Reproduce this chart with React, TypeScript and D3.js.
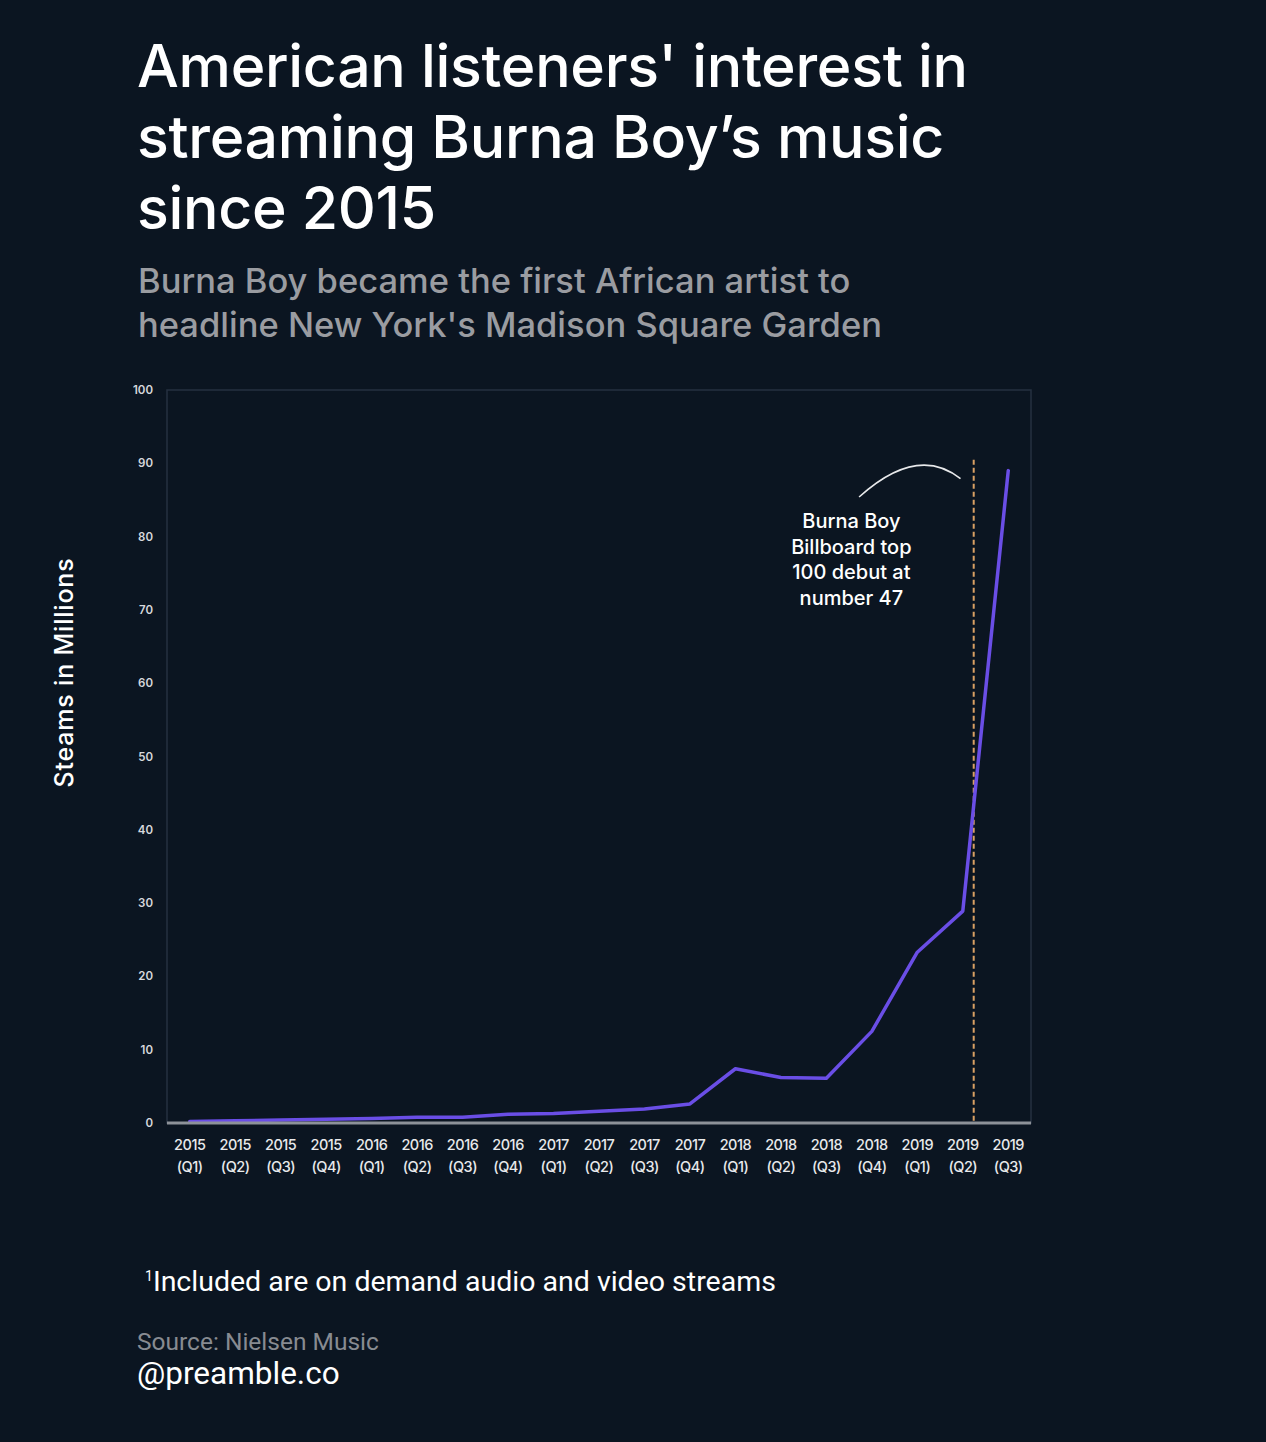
import { useEffect, useRef } from 'react';
import * as d3 from 'd3';

// chart data
const years = ['2015', '2015', '2015', '2015', '2016', '2016', '2016', '2016', '2017', '2017', '2017', '2017', '2018', '2018', '2018', '2018', '2019', '2019', '2019'];
const quarters = ['Q1', 'Q2', 'Q3', 'Q4', 'Q1', 'Q2', 'Q3', 'Q4', 'Q1', 'Q2', 'Q3', 'Q4', 'Q1', 'Q2', 'Q3', 'Q4', 'Q1', 'Q2', 'Q3'];
const streams = [0.2, 0.3, 0.4, 0.5, 0.6, 0.8, 0.8, 1.2, 1.3, 1.6, 1.9, 2.6, 7.4, 6.2, 6.1, 12.5, 23.3, 28.9, 89.0];
const yTicks = [0, 10, 20, 30, 40, 50, 60, 70, 80, 90, 100];

const titleLines = ["American listeners' interest in", 'streaming Burna Boy\u2019s music', 'since 2015'];
const subtitleLines = ['Burna Boy became the first African artist to', "headline New York's Madison Square Garden"];
const noteLines = ['Burna Boy', 'Billboard top', '100 debut at', 'number 47'];

// billboard debut marker: between 2019 Q2 and Q3
const debutIndex = 17.24;
const debutTop = 90.5;
// annotation anchor in data space [index, value]
const noteAnchor: [number, number] = [14.55, 82.1];
const arcStart: [number, number] = [14.72, 85.4];
const arcCtrl: [number, number] = [16.0, 92.6];
const arcEnd: [number, number] = [16.95, 87.9];

const W = 1266;
const H = 1442;
const BG = '#0b1521';

const App = () => {
  const ref = useRef<SVGSVGElement>(null);

  useEffect(() => {
    document.body.style.margin = '0';
    document.body.style.background = BG;
    const svg = d3.select(ref.current);
    svg.selectAll('*').remove();

    const left = 167, right = 1031, top = 390, bottom = 1123;
    const x = d3.scaleLinear().domain([-0.5, streams.length - 0.5]).range([left, right]);
    const y = d3.scaleLinear().domain([0, 100]).range([bottom, top]);

    svg.append('rect').attr('width', W).attr('height', H).attr('fill', BG);

    // title
    const sans = 'Inter, "Noto Sans", sans-serif';
    svg.append('g').selectAll('text').data(titleLines).enter().append('text')
      .attr('x', 137).attr('y', (d, i) => 87 + i * 71)
      .attr('fill', '#ffffff').attr('font-family', sans).attr('font-weight', 500)
      .attr('font-size', 59).attr('letter-spacing', -0.3)
      .text(d => d);

    svg.append('g').selectAll('text').data(subtitleLines).enter().append('text')
      .attr('x', 138).attr('y', (d, i) => 293 + i * 44)
      .attr('fill', '#9a9ca1').attr('font-family', sans).attr('font-weight', 500)
      .attr('font-size', 34.5)
      .text(d => d);

    // frame
    svg.append('rect')
      .attr('x', left).attr('y', top).attr('width', right - left).attr('height', bottom - top)
      .attr('fill', 'none').attr('stroke', '#263140').attr('stroke-width', 1.5);

    // y axis ticks
    svg.append('g').selectAll('text').data(yTicks).enter().append('text')
      .attr('x', 153).attr('y', d => y(d) + 4)
      .attr('text-anchor', 'end').attr('fill', '#d6d8dc')
      .attr('font-family', sans).attr('font-weight', 600).attr('font-size', 11.5)
      .text(d => d);

    svg.append('text')
      .attr('transform', `translate(73, ${(top + bottom) / 2 - 84}) rotate(-90)`)
      .attr('text-anchor', 'middle').attr('fill', '#ffffff')
      .attr('font-family', sans).attr('font-weight', 500).attr('font-size', 25)
      .attr('letter-spacing', 0.8)
      .text('Steams in Millions');

    // x labels
    const xl = svg.append('g').selectAll('text').data(years).enter().append('text')
      .attr('text-anchor', 'middle').attr('fill', '#e8e9eb')
      .attr('font-family', sans).attr('font-weight', 500).attr('font-size', 14.5)
      .attr('letter-spacing', -0.5);
    xl.append('tspan').attr('x', (d, i) => x(i)).attr('y', 1150).text(d => d);
    xl.append('tspan').attr('x', (d, i) => x(i)).attr('y', 1172).text((d, i) => `(${quarters[i]})`);

    // debut marker
    svg.append('line')
      .attr('x1', x(debutIndex)).attr('x2', x(debutIndex))
      .attr('y1', y(debutTop)).attr('y2', y(0))
      .attr('stroke', '#d9a064').attr('stroke-width', 2).attr('stroke-dasharray', '5,3');

    // line
    const line = d3.line<number>().x((d, i) => x(i)).y(d => y(d));
    svg.append('path').datum(streams)
      .attr('d', line).attr('fill', 'none')
      .attr('stroke', '#6a4ee6').attr('stroke-width', 3.5)
      .attr('stroke-linejoin', 'round').attr('stroke-linecap', 'round');

    // baseline
    svg.append('line')
      .attr('x1', left).attr('x2', right).attr('y1', bottom).attr('y2', bottom)
      .attr('stroke', '#8d9299').attr('stroke-width', 3);

    // annotation
    const arc = d3.path();
    arc.moveTo(x(arcStart[0]), y(arcStart[1]));
    arc.quadraticCurveTo(x(arcCtrl[0]), y(arcCtrl[1]), x(arcEnd[0]), y(arcEnd[1]));
    svg.append('path').attr('d', arc.toString())
      .attr('fill', 'none').attr('stroke', '#e8e9eb').attr('stroke-width', 1.6);

    svg.append('g').selectAll('text').data(noteLines).enter().append('text')
      .attr('x', x(noteAnchor[0])).attr('y', (d, i) => y(noteAnchor[1]) + 7 + i * 25.5)
      .attr('text-anchor', 'middle').attr('fill', '#ffffff')
      .attr('font-family', sans).attr('font-weight', 500).attr('font-size', 20)
      .text(d => d);

    // footer
    const foot = 'Roboto, "Liberation Sans", sans-serif';
    const fn = svg.append('text').attr('x', 145).attr('y', 1291)
      .attr('fill', '#ffffff').attr('font-family', foot).attr('font-size', 28.5);
    fn.append('tspan').attr('font-size', 14).attr('dy', -10).text('1');
    fn.append('tspan').attr('dy', 10).text('Included are on demand audio and video streams');

    svg.append('text').attr('x', 137).attr('y', 1350)
      .attr('fill', '#878b91').attr('font-family', foot).attr('font-size', 24.5)
      .text('Source: Nielsen Music');
    svg.append('text').attr('x', 137).attr('y', 1384)
      .attr('fill', '#ffffff').attr('font-family', foot).attr('font-size', 31.5)
      .text('@preamble.co');
  }, []);

  return <svg ref={ref} width={W} height={H} style={{ display: 'block' }} />;
};

export default App;
